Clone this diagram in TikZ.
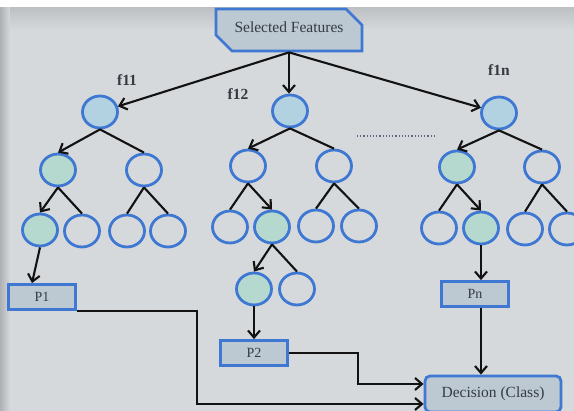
\documentclass[tikz,border=0pt]{standalone}
\usepackage{fontspec}
\setmainfont{Liberation Serif}
\usetikzlibrary{shapes.geometric,shapes.misc,arrows.meta}
\definecolor{bg}{HTML}{D6D9DB}
\definecolor{cdark}{HTML}{AEB1B3}
\definecolor{cblue}{HTML}{3F78D2}
\definecolor{cbox}{HTML}{BCC8D2}
\definecolor{croot}{HTML}{B2D1E1}
\definecolor{cgreen}{HTML}{B6D9CF}
\definecolor{ctext}{HTML}{353B43}
\definecolor{cline}{HTML}{121212}
\definecolor{cdot}{HTML}{5A6A80}
\begin{document}
\begin{tikzpicture}[x=1pt,y=-1pt,
  nd/.style={ellipse,draw=cblue,line width=2.8pt,minimum width=35pt,minimum height=32pt,inner sep=0pt},
  rootn/.style={nd,fill=croot},
  grn/.style={nd,fill=cgreen},
  pbox/.style={rectangle,draw=cblue,line width=2.8pt,fill=cbox,minimum width=67pt,minimum height=25pt,inner sep=0pt,font=\fontsize{14}{16}\selectfont,text=ctext},
  edge/.style={line width=2.1pt,draw=cline},
  arr/.style={edge,-{Straight Barb[length=7pt,width=12pt,line width=2.1pt]}},
  lab/.style={font=\bfseries\fontsize{15.5}{17}\selectfont,text=ctext}]
\useasboundingbox (0,0) rectangle (574,411);
\clip (0,0) rectangle (574,411);
\fill[white] (0,0) rectangle (574,8);
\fill[bg] (0,8) rectangle (574,411);
\shade[left color=cdark,right color=bg] (0,8) rectangle (10,411);
\shade[top color=cdark!60!bg,bottom color=bg] (10,8) rectangle (574,30);

% top box
\node[chamfered rectangle,chamfered rectangle corners={north east,south west},
  chamfered rectangle xsep=8pt,chamfered rectangle ysep=8pt,
  draw=cblue,line width=2.8pt,fill=cbox,minimum width=146pt,minimum height=42pt,inner sep=0pt,
  font=\fontsize{15.5}{17}\selectfont,text=ctext] (sf) at (289,30) {\raisebox{6pt}{Selected Features}};

% labels
\node[lab] (l1) at (127,80) {f11};
\node[lab] (l2) at (238,94) {f12};
\node[lab] (l3) at (499,70) {f1n};
\coordinate (dl) at (357,136);
\coordinate (dr) at (436,136);
\draw[dotted,line width=1.2pt,draw=cdot] (dl) -- (dr);

% tree f11
\node[rootn] (r1) at (100,112) {};
\node[grn] (a1) at (58,170) {};
\node[nd] (a2) at (144,170) {};
\node[grn] (a11) at (40,230) {};
\node[nd] (a12) at (82,231) {};
\node[nd] (a21) at (127,231) {};
\node[nd] (a22) at (168,231) {};

% tree f12
\node[rootn] (r2) at (290,111) {};
\node[nd] (b1) at (248,166) {};
\node[nd] (b2) at (334,166) {};
\node[nd] (b11) at (230,227) {};
\node[grn] (b12) at (272,227) {};
\node[nd] (b21) at (316,226) {};
\node[nd] (b22) at (359,226) {};
\node[grn] (b121) at (254,289) {};
\node[nd] (b122) at (297,289) {};

% tree f1n
\node[rootn] (r3) at (499,113) {};
\node[grn] (c1) at (457,167) {};
\node[nd] (c2) at (542,167) {};
\node[nd] (c11) at (439,228) {};
\node[grn] (c12) at (481,228) {};
\node[nd] (c21) at (525,229) {};
\node[nd] (c22) at (567,229) {};

% result boxes
\node[pbox] (p1) at (42,297) {P1};
\node[pbox] (p2) at (254,353) {P2};
\node[pbox] (pn) at (475,294) {Pn};
\node[rectangle,rounded corners=5pt,draw=cblue,line width=2.8pt,fill=cbox,minimum width=136pt,minimum height=36pt,inner sep=0pt,
  font=\fontsize{15.5}{17}\selectfont,text=ctext] (dec) at (493,394) {Decision (Class)};

% connectors from top
\draw[arr] (sf.south) -- (r1);
\draw[arr] (sf.south) -- (sf.south |- r2.north);
\draw[arr] (sf.south) -- (r3);

% f11 edges
\draw[arr] (r1.south) -- (a1.north);
\draw[edge] (r1.south) -- (a2.north);
\draw[arr] (a1.south) -- (a11.north);
\draw[edge] (a1.south) -- (a12.north);
\draw[edge] (a2.south) -- (a21.north);
\draw[edge] (a2.south) -- (a22.north);
\draw[arr] (a11.south) -- ([xshift=-10pt]p1.north);

% f12 edges
\draw[arr] (r2.south) -- (b1.north);
\draw[edge] (r2.south) -- (b2.north);
\draw[edge] (b1.south) -- (b11.north);
\draw[arr] (b1.south) -- (b12.north);
\draw[edge] (b2.south) -- (b21.north);
\draw[edge] (b2.south) -- (b22.north);
\draw[arr] (b12.south) -- (b121.north);
\draw[edge] (b12.south) -- (b122.north);
\draw[arr] (b121.south) -- (b121.south |- p2.north);

% f1n edges
\draw[arr] (r3.south) -- (c1.north);
\draw[edge] (r3.south) -- (c2.north);
\draw[edge] (c1.south) -- (c11.north);
\draw[arr] (c1.south) -- (c12.north);
\draw[edge] (c2.south) -- (c21.north);
\draw[edge] (c2.south) -- (c22.north);
\draw[arr] (c12.south) -- (c12.south |- pn.north);

% to decision
\draw[arr] (c12.south |- pn.south) -- (c12.south |- dec.north);
\draw[arr] (p2.east) -- ++(69,0) |- ([yshift=10pt]dec.west);
\draw[arr] (p1.south east) -- ++(120,0) |- ([yshift=-10pt]dec.west);
\end{tikzpicture}
\end{document}
